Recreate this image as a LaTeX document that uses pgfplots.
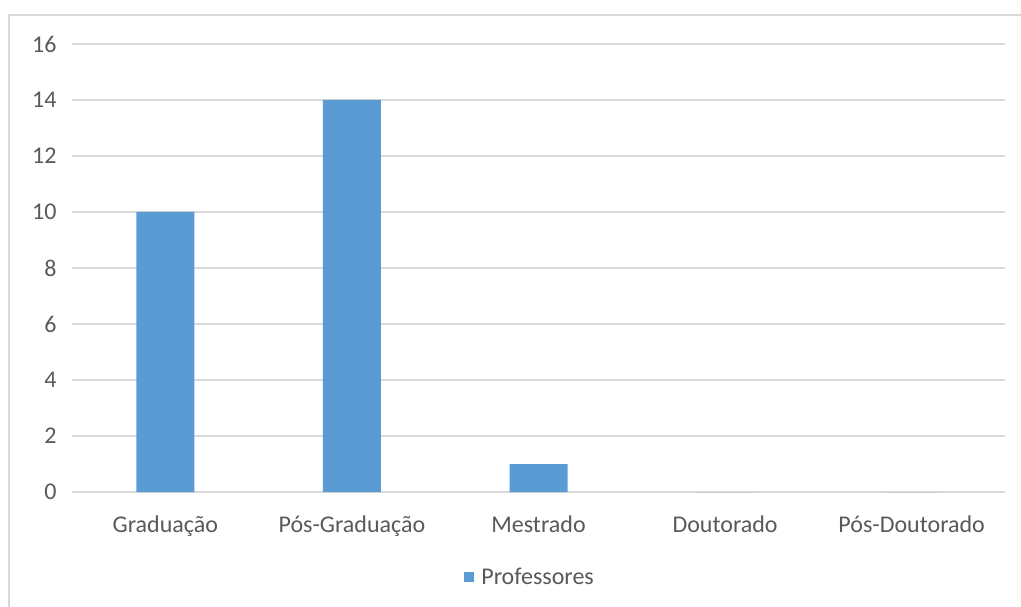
\documentclass[border=0pt]{standalone}
\usepackage{pgfplots}
\pgfplotsset{compat=1.18}
\usepackage{fontspec}
\setmainfont{Carlito}
\definecolor{barblue}{HTML}{5B9BD5}
\definecolor{gridgray}{HTML}{D9D9D9}
\definecolor{txtgray}{HTML}{595959}

\begin{document}
\begin{tikzpicture}[x=1pt,y=1pt]
\path[use as bounding box] (0,0) rectangle (1021,606);
% chart frame (only left and top edges are visible in the crop)
\draw[gridgray, line width=2pt] (9,-3) -- (9,591) -- (1024,591);
\begin{axis}[
  at={(72pt,114pt)}, anchor=south west,
  scale only axis, width=933pt, height=448pt,
  xmin=-0.5, xmax=4.5, ymin=0, ymax=16,
  ytick={0,2,...,16},
  xtick=data,
  xticklabels={Graduação,Pós-Graduação,Mestrado,Doutorado,Pós-Doutorado},
  ybar, bar width=58pt,
  axis line style={draw=none},
  major tick length=0pt,
  ymajorgrids, grid style={gridgray, line width=1.5pt},
  ticklabel style={font=\fontsize{24}{28}\selectfont, text=txtgray},
  yticklabel style={/pgf/number format/assume math mode=true, xshift=-12pt},
  xticklabel style={yshift=-20pt},
  legend style={at={(0.491,-0.19)}, anchor=center, draw=none,
    font=\fontsize{24}{28}\selectfont, text=txtgray},
  legend image code/.code={\fill[#1] (0pt,-5pt) rectangle (10pt,5pt);
    \path (15pt,0pt);},
]
\addplot[fill=barblue, draw=none] coordinates {(0,10) (1,14) (2,1) (3,0) (4,0)};
\addlegendentry{Professores}
\end{axis}
\end{tikzpicture}
\end{document}
